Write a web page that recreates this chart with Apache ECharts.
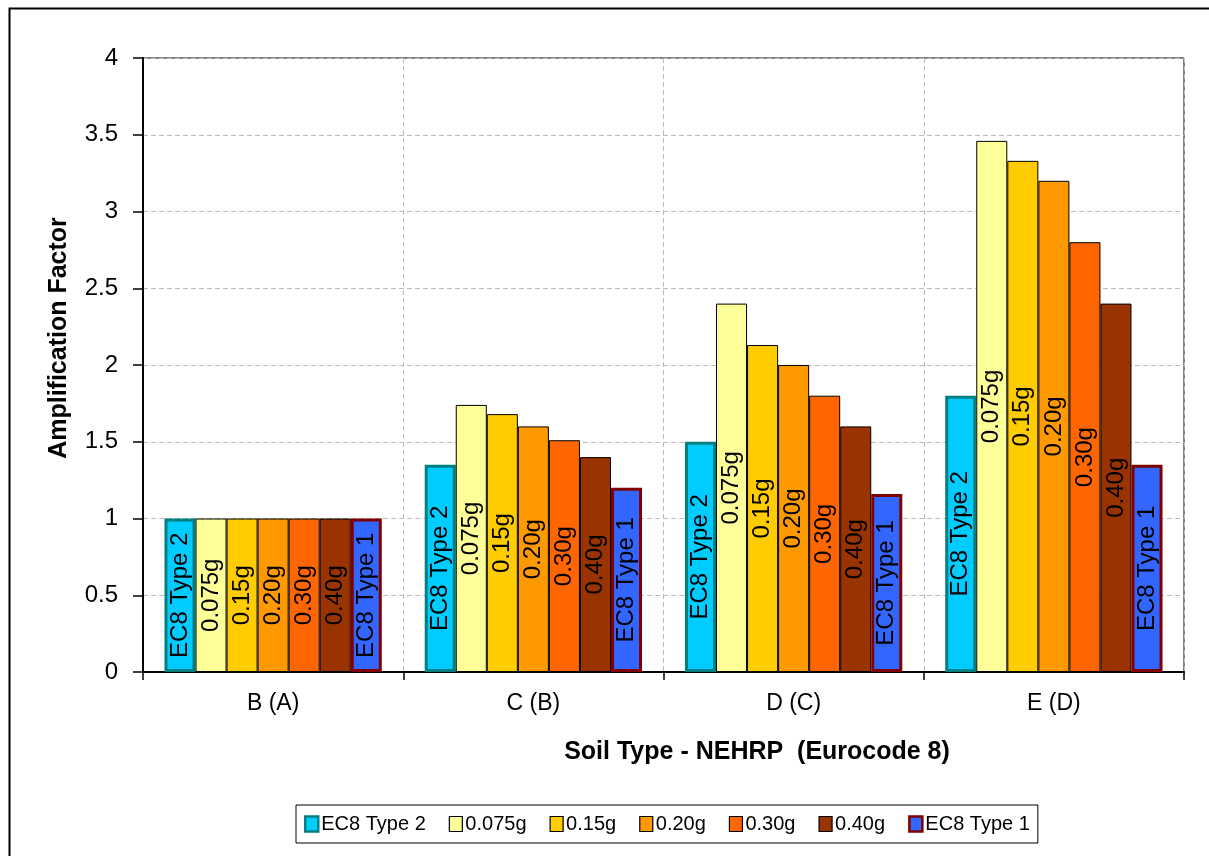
<!DOCTYPE html>
<html>
<head>
<meta charset="utf-8">
<script src="https://cdn.jsdelivr.net/npm/echarts@6/dist/echarts.min.js"></script>
<style>
    html, body { margin: 0; padding: 0; background: #fff; }
    #myChart { width: 1209px; height: 856px; }
</style>
</head>
<body>
<div id="myChart"></div>
<script>
    // soil classes (NEHRP with Eurocode 8 in brackets)
    var categories = ['B (A)', 'C (B)', 'D (C)', 'E (D)'];
    var seriesNames = ['EC8 Type 2', '0.075g', '0.15g', '0.20g', '0.30g', '0.40g', 'EC8 Type 1'];
    var ec8Type2 = [1.0, 1.35, 1.5, 1.8];
    var g0075 = [1.0, 1.74, 2.4, 3.46];
    var g015 = [1.0, 1.68, 2.13, 3.33];
    var g020 = [1.0, 1.6, 2.0, 3.2];
    var g030 = [1.0, 1.51, 1.8, 2.8];
    var g040 = [1.0, 1.4, 1.6, 2.4];
    var ec8Type1 = [1.0, 1.2, 1.16, 1.35];
    var yTicks = [0, 0.5, 1, 1.5, 2, 2.5, 3, 3.5, 4];

    var allData = [ec8Type2, g0075, g015, g020, g030, g040, ec8Type1];
    var fills = ['#00CCFF', '#FFFF99', '#FFCC00', '#FF9900', '#FF6600', '#993300', '#3366FF'];
    var borders = ['#008080', '#000', '#000', '#000', '#000', '#000', '#800000'];
    var borderW = [3, 1, 1, 1, 1, 1, 3];
    var font = 'Liberation Sans, Arial, sans-serif';

    var series = [];
    for (var i = 0; i < seriesNames.length; i++) {
        series.push({
            name: seriesNames[i],
            type: 'bar',
            data: allData[i],
            barGap: '0%',
            barCategoryGap: '16.5%',
            itemStyle: {color: fills[i], borderColor: borders[i], borderWidth: borderW[i]},
            label: {
                show: true, position: 'inside', rotate: 90, formatter: '{a}',
                color: '#000', fontSize: 24, fontFamily: font
            },
            z: 3
        });
    }

    var legendData = seriesNames.map(function (n, i) {
        return {name: n, itemStyle: {borderWidth: i == 0 || i == 6 ? 2.5 : 1.2}};
    });

    var myChart = echarts.init(document.getElementById('myChart'));
    myChart.setOption({
        animation: false,
        textStyle: {fontFamily: font},
        grid: {left: 143, right: 25, top: 58, bottom: 184, show: true, borderColor: '#000', borderWidth: 1},
        legend: {
            data: legendData,
            left: 296, top: 805,
            padding: [9, 8, 9, 8],
            itemWidth: 13, itemHeight: 15, itemGap: 23,
            borderColor: '#000', borderWidth: 1,
            textStyle: {fontSize: 20, color: '#000', fontFamily: font, padding: [0, 0, 0, -2]},
            icon: 'rect'
        },
        xAxis: {
            type: 'category',
            data: categories,
            axisLine: {lineStyle: {color: '#000', width: 2}},
            axisTick: {show: true, length: 8, lineStyle: {color: '#000', width: 1.5}},
            axisLabel: {color: '#000', fontSize: 23, margin: 20},
            splitLine: {show: true, lineStyle: {color: '#BBBBBB', type: [5, 3]}}
        },
        yAxis: {
            type: 'value',
            min: yTicks[0], max: yTicks[yTicks.length - 1], interval: 0.5,
            axisLine: {show: true, lineStyle: {color: '#000', width: 2}},
            axisTick: {show: true, length: 10, lineStyle: {color: '#000', width: 1.5}},
            axisLabel: {color: '#000', fontSize: 24, margin: 25},
            splitLine: {show: true, lineStyle: {color: '#BBBBBB', type: [5, 3]}}
        },
        graphic: [
            {type: 'rect', left: 7, top: 6, shape: {width: 1300, height: 1000},
                style: {fill: 'none', stroke: '#000', lineWidth: 2}, silent: true},
            {type: 'text', x: 59, y: 338, rotation: Math.PI / 2,
                style: {text: 'Amplification Factor', fontSize: 25, fontWeight: 'bold', fontFamily: font,
                    fill: '#000', align: 'center', verticalAlign: 'middle'}},
            {type: 'text', x: 757, y: 752,
                style: {text: 'Soil Type - NEHRP  (Eurocode 8)', fontSize: 25, fontWeight: 'bold', fontFamily: font,
                    fill: '#000', align: 'center', verticalAlign: 'middle'}}
        ],
        series: series
    });
</script>
</body>
</html>
